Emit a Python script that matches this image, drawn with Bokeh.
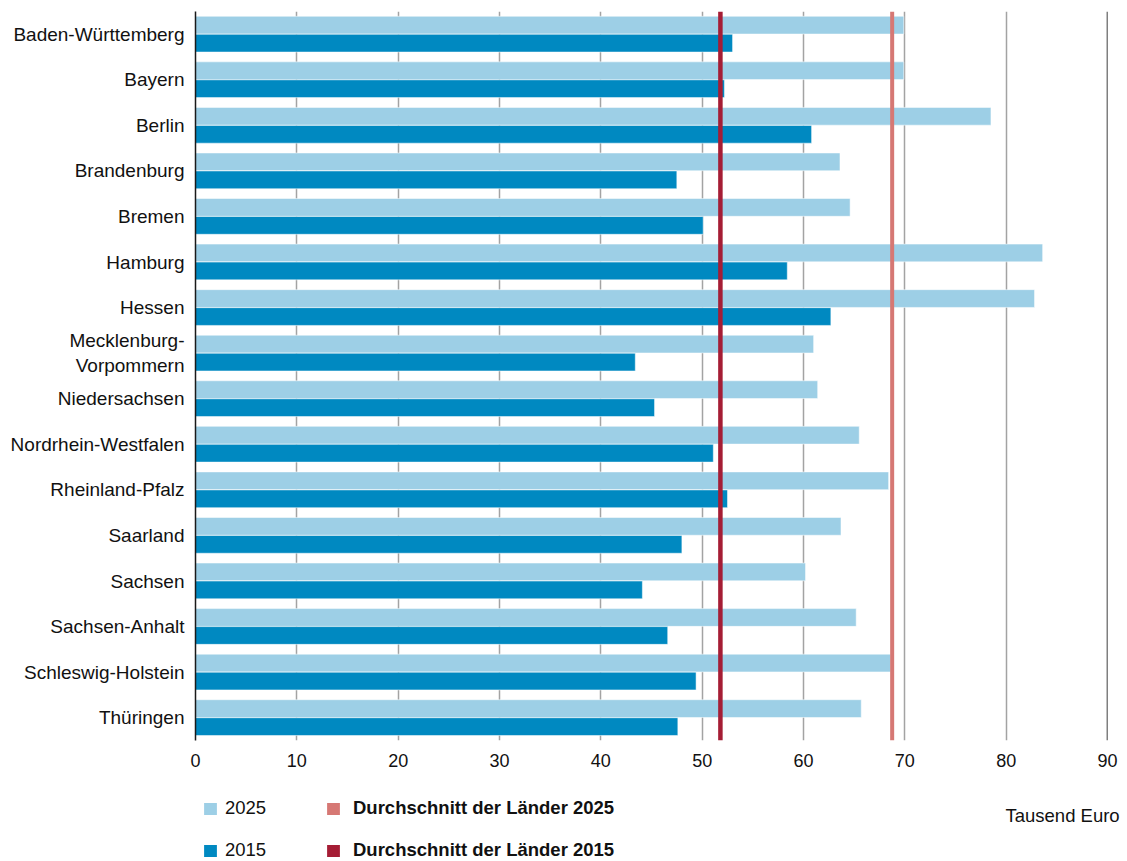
from bokeh.plotting import figure
from bokeh.layouts import column, row
from bokeh.models import (ColumnDataSource, FactorRange, Range1d, FixedTicker, Span,
                          Legend, LegendItem, Label)
from bokeh.transform import dodge
from bokeh.embed import file_html
from bokeh.resources import INLINE

states = ["Baden-Württemberg", "Bayern", "Berlin", "Brandenburg", "Bremen", "Hamburg",
          "Hessen", "Mecklenburg-\nVorpommern", "Niedersachsen", "Nordrhein-Westfalen",
          "Rheinland-Pfalz", "Saarland", "Sachsen", "Sachsen-Anhalt", "Schleswig-Holstein",
          "Thüringen"]
v2025 = [69.9, 69.9, 78.5, 63.6, 64.6, 83.6, 82.8, 61.0, 61.4, 65.5, 68.4, 63.7, 60.2, 65.2, 68.6, 65.7]
v2015 = [53.0, 52.2, 60.8, 47.5, 50.1, 58.4, 62.7, 43.4, 45.3, 51.1, 52.5, 48.0, 44.1, 46.6, 49.4, 47.6]
avg2025 = 68.75
avg2015 = 51.8
x_ticks = [0, 10, 20, 30, 40, 50, 60, 70, 80, 90]

C2025 = "#9dcfe6"
C2015 = "#0089c1"
CAVG25 = "#d67874"
CAVG15 = "#a51d35"
FONT = "Liberation Sans"
TXT = "#111111"

src = ColumnDataSource(dict(state=states, v2025=v2025, v2015=v2015))

W = 1127
H1 = 775
H2 = 86

p = figure(width=W, height=H1, output_backend="svg", toolbar_location=None,
           y_range=FactorRange(factors=states[::-1]), x_range=Range1d(0, 90),
           min_border_left=195, min_border_right=20, min_border_top=11, min_border_bottom=35)
p.outline_line_color = None
p.background_fill_color = "white"
p.border_fill_color = "white"

r25 = p.hbar(y=dodge("state", 0.2, range=p.y_range), right="v2025", left=0, height=0.39,
             source=src, fill_color=C2025, line_color="white", line_width=1, line_alpha=0.5)
r15 = p.hbar(y=dodge("state", -0.195, range=p.y_range), right="v2015", left=0, height=0.39,
             source=src, fill_color=C2015, line_color="white", line_width=1, line_alpha=0.5)

p.add_layout(Span(location=avg2025, dimension="height", line_color=CAVG25, line_width=4))
p.add_layout(Span(location=avg2015, dimension="height", line_color=CAVG15, line_width=4.5))
p.add_layout(Span(location=x_ticks[-1], dimension="height", line_color="black", line_width=1.5,
                  level="underlay"))

p.xgrid.ticker = FixedTicker(ticks=x_ticks)
p.xgrid.grid_line_color = "#a3a3a3"
p.xgrid.grid_line_width = 1.5
p.ygrid.grid_line_color = None

p.xaxis.ticker = FixedTicker(ticks=x_ticks)
p.xaxis.axis_line_color = None
p.xaxis.major_tick_line_color = None
p.xaxis.minor_tick_line_color = None
p.xaxis.major_tick_out = 0
p.xaxis.major_label_standoff = 13
p.xaxis.major_label_text_font = FONT
p.xaxis.major_label_text_font_size = "18px"
p.xaxis.major_label_text_color = TXT

p.yaxis.axis_line_color = "#1a1a1a"
p.yaxis.axis_line_width = 1.5
p.yaxis.major_tick_line_color = None
p.yaxis.minor_tick_line_color = None
p.yaxis.major_tick_out = 0
p.yaxis.major_label_standoff = 11
p.yaxis.major_label_text_font = FONT
p.yaxis.major_label_text_font_size = "19px"
p.yaxis.major_label_text_color = TXT

# legend strip below the chart
q = figure(width=W, height=H2, output_backend="svg", toolbar_location=None,
           x_range=Range1d(0, W), y_range=Range1d(0, H2),
           min_border_left=0, min_border_right=0, min_border_top=0, min_border_bottom=0)
q.axis.visible = False
q.grid.visible = False
q.outline_line_color = None
q.background_fill_color = "white"
q.border_fill_color = "white"

# hidden stand-ins: only their swatches are shown in the legends
s25 = q.hbar(y=[avg2025], right=[avg2025], height=1, fill_color=C2025, line_color=None, visible=False)
s15 = q.hbar(y=[avg2015], right=[avg2015], height=1, fill_color=C2015, line_color=None, visible=False)
a25 = q.hbar(y=[avg2025], right=[avg2025], height=1, fill_color=CAVG25, line_color=None, visible=False)
a15 = q.hbar(y=[avg2015], right=[avg2015], height=1, fill_color=CAVG15, line_color=None, visible=False)

leg_common = dict(orientation="vertical", glyph_width=16, glyph_height=15, label_height=20,
                  spacing=20, padding=0, margin=0, border_line_color=None,
                  background_fill_alpha=0, label_text_font=FONT,
                  label_text_font_size="18.5px", label_text_color=TXT)
leg1 = Legend(items=[LegendItem(label="2025", renderers=[s25]),
                     LegendItem(label="2015", renderers=[s15])],
              location=(202, 0), label_standoff=7, **leg_common)
leg2 = Legend(items=[LegendItem(label="Durchschnitt der Länder 2025", renderers=[a25]),
                     LegendItem(label="Durchschnitt der Länder 2015", renderers=[a15])],
              location=(325, 0), label_standoff=12, label_text_font_style="bold", **leg_common)
q.add_layout(leg1)
q.add_layout(leg2)

q.add_layout(Label(x=1005, y=46, text="Tausend Euro",
                   text_font=FONT, text_font_size="18.5px", text_color=TXT,
                   text_baseline="middle", text_align="left"))

layout = column(p, row(q), spacing=0)
open("out.html", "w").write(file_html(layout, INLINE))
